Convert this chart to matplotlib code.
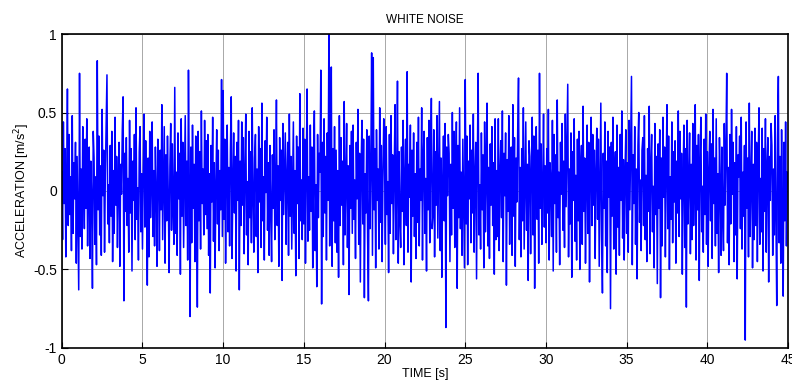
import numpy as np
import matplotlib.pyplot as plt

# acceleration samples, 20 per second (m/s^2), one row per second
acc = [
    .12,-.31,.44,-.08,.27,-.42,.05,.65,-.22,.36,-.15,.09,-.38,.48,-.27,.18,-.05,.31,-.46,.22,
    -.18,-.63,.75,-.29,.14,-.37,.41,.03,-.24,.33,-.11,.46,-.35,.07,.28,-.43,.19,-.06,-.62,.38,
    .21,-.34,.09,-.47,.83,-.12,.35,-.28,.16,-.41,.52,-.03,.26,-.39,.11,.43,.74,-.21,.04,-.33,
    .29,-.16,.38,-.45,.13,-.27,.47,-.09,.22,-.36,.06,.31,-.48,.17,-.02,.39,.60,-.70,.24,-.13,
    .34,-.22,.08,-.39,.45,-.14,.27,-.51,.19,-.06,.36,-.31,.53,-.18,.02,-.44,.25,.41,-.26,.11,
    -.37,.15,.49,-.23,.32,-.08,-.60,.21,-.42,.38,-.17,.06,.44,-.29,.13,-.35,.28,-.01,-.48,.33,
    .18,-.38,.26,-.12,.55,-.31,.07,.41,-.46,.23,-.19,.35,-.04,-.52,.16,.43,-.25,.30,-.09,-.34,
    .66,-.27,.12,-.41,.37,-.05,.24,-.53,.46,-.16,.31,-.36,.09,.48,-.22,.19,-.44,.77,.05,-.80,
    .28,-.33,.42,-.11,.17,-.45,.35,-.02,-.74,.38,-.19,.25,-.37,.51,-.08,.14,-.28,.45,-.15,.32,
    -.24,.36,-.41,.11,-.65,.29,-.07,.47,-.32,.18,-.49,.04,.39,-.21,.26,-.38,.13,-.12,.71,-.29,
    .64,-.18,.33,-.46,.08,.42,-.26,.15,-.35,.27,.60,-.43,.02,.37,-.14,.22,-.51,.31,-.06,.45,
    -.63,.19,-.22,.44,-.09,.34,-.40,.12,.49,-.28,.06,-.47,.38,-.17,.25,-.33,.53,-.03,-.39,.21,
    .36,-.29,.14,-.52,.41,-.07,.27,-.36,.56,-.19,.09,-.44,.32,-.01,.47,-.25,.18,-.41,.29,-.12,
    -.45,.23,-.11,.39,-.31,.05,.58,-.22,.16,-.48,.34,-.06,.26,-.57,.43,-.15,.11,.37,-.34,.08,
    .31,-.41,.49,-.16,.22,-.37,.03,.44,-.27,.13,-.54,.35,-.08,.28,-.43,.62,-.19,.07,-.31,.40,
    -.21,.33,-.46,.15,.65,-.32,.09,-.25,.42,-.13,.28,-.49,.19,.51,-.38,.04,-.61,.36,-.17,.24,
    .12,.77,-.72,.31,-.29,.46,-.14,.22,-.44,.37,-.06,1.0,-.35,.18,.79,-.48,.27,-.19,.41,-.33,
    .26,-.39,.13,-.55,.48,-.22,.34,-.09,.19,-.47,.57,-.28,.05,.43,-.36,.16,-.66,.29,-.11,.38,
    -.27,.42,-.18,.07,-.43,.31,-.05,.52,-.34,.24,-.58,.17,.45,-.21,.33,-.68,.11,-.14,.39,-.30,
    -.70,.35,-.24,.18,.88,-.41,.85,-.12,.27,-.49,.39,-.06,.14,-.37,.53,-.20,.29,-.45,.09,.46,
    .19,-.34,.41,-.15,.06,-.52,.36,-.27,.48,-.08,.23,-.40,.14,.55,-.31,.02,.70,-.46,.25,-.18,
    -.36,.28,-.13,.45,-.47,.09,.33,-.22,.76,-.39,.17,-.04,.42,-.58,.26,-.16,.37,-.29,.11,-.43,
    .31,-.20,.47,-.35,.14,-.06,.53,-.44,.22,.38,-.27,.08,-.51,.34,-.12,.45,-.33,.19,.59,-.24,
    -.15,.39,-.42,.25,-.09,.48,-.30,.13,.57,-.38,.21,-.55,.06,.35,-.19,.43,-.87,.28,-.03,.36,
    .24,-.45,.17,-.28,.50,-.11,.38,-.36,.08,.44,-.62,.29,-.17,.53,-.24,.12,-.41,.33,-.07,-.49,
    .71,-.21,.35,-.47,.19,-.05,.42,-.33,.26,-.14,.49,-.39,.10,.31,-.56,.22,.75,-.28,.04,-.37,
    .37,-.12,.23,-.49,.44,-.26,.07,.56,-.35,.15,-.43,.30,-.09,.41,-.22,.18,-.53,.46,-.31,.13,
    -.29,.46,-.38,.11,.32,-.17,.51,-.45,.24,-.03,.37,-.60,.20,-.13,.48,-.34,.09,.28,-.41,.55,
    -.16,.34,-.48,.21,-.07,.39,.72,-.31,.15,-.42,.27,-.19,.53,-.37,.06,.44,-.25,.17,-.57,.32,
    .22,-.40,.13,.47,-.28,.35,-.62,.09,.41,-.18,.26,-.46,.75,-.11,.30,-.34,.04,.49,-.23,.16,
    -.33,.27,-.14,.52,-.44,.18,.06,-.29,.45,-.51,.36,-.08,.23,-.39,.58,-.17,.12,-.47,.31,-.02,
    .43,-.25,.19,-.36,.49,-.10,.28,.68,-.42,.14,-.21,.37,-.55,.25,-.06,.46,-.32,.10,-.44,.33,
    -.19,.38,-.50,.16,.29,-.34,.54,-.13,.21,-.46,.05,.42,-.27,.31,-.58,.15,.47,-.22,.36,-.09,
    .26,-.43,.12,.40,-.18,.33,-.48,.07,.56,-.29,-.65,.24,-.11,.44,-.35,.19,-.52,.38,-.04,.28,
    -.75,.31,-.16,.47,-.37,.09,.25,-.53,.42,-.23,.15,-.41,.36,-.06,.51,-.30,.20,-.44,.13,.39,
    -.27,.18,-.39,.45,-.12,.32,.73,-.47,.23,-.08,.41,-.34,.14,-.56,.29,.50,-.20,.07,-.38,.26,
    .34,-.22,.48,-.31,.10,-.45,.27,-.13,.54,-.40,.17,.36,-.26,.03,-.49,.43,-.15,.22,-.59,.30,
    -.11,.39,-.68,.21,-.35,.47,-.04,.28,-.42,.16,.55,-.24,.35,-.50,.09,-.18,.44,-.33,.25,-.07,
    .32,-.46,.19,-.14,.51,-.29,.38,-.05,.24,-.53,.13,.42,-.36,.27,-.74,.45,-.21,.06,.37,-.40,
    .17,-.31,.43,-.22,.08,.55,-.44,.29,-.12,.36,-.57,.20,.47,-.26,.03,-.39,.33,-.15,.49,-.34,
    .25,-.48,.14,.38,-.19,.30,-.43,.52,-.08,.21,-.35,.46,-.27,.11,-.52,.34,.06,-.41,.28,-.16,
    -.38,.43,-.09,.26,.75,-.33,.15,-.47,.36,-.21,.52,-.02,.31,-.45,.18,-.28,.41,-.56,.23,.09,
    .35,-.24,.47,-.37,.12,-.16,.29,-.95,.44,-.11,.21,-.42,.56,-.29,.07,.38,-.49,.17,-.31,.40,
    -.22,.31,-.45,.18,.53,-.34,.08,-.26,.40,-.51,.27,-.13,.46,-.39,.15,.34,-.58,.22,-.06,.43,
    .29,-.41,.14,-.28,.48,-.17,-.73,.36,.73,-.33,.22,-.46,.39,-.08,-.67,.31,-.19,.44,-.35,.12,
]
fs = 20  # samples per second
x_ticks = [0, 5, 10, 15, 20, 25, 30, 35, 40, 45]
y_ticks = [-1, -0.5, 0, 0.5, 1]

acc = np.array(acc)
t = np.arange(len(acc)) / fs

plt.rcParams['font.family'] = ['Liberation Sans', 'DejaVu Sans']

fig = plt.figure(figsize=(7.92, 3.87), dpi=100)
ax = fig.add_axes([0.078, 0.101, 0.917, 0.811])

ax.plot(t, acc, color='#0000ff', linewidth=1.1)

ax.set_xlim(0, 45)
ax.set_ylim(-1, 1)
ax.set_xticks(x_ticks)
ax.set_yticks(y_ticks)
ax.set_yticklabels(['-1', '-0.5', '0', '0.5', '1'])
ax.tick_params(direction='in', length=4, labelsize=10, colors='black')
ax.grid(True, color='#a8a8a8', linestyle='-', linewidth=0.7)
for s in ax.spines.values():
    s.set_linewidth(1.2)

ax.set_title('WHITE NOISE', fontsize=8.5, pad=8)
ax.set_xlabel('TIME [s]', fontsize=9, labelpad=1)
ax.set_ylabel('ACCELERATION [m/s$^2$]', fontsize=9, labelpad=1)

fig.savefig('out.png', dpi=100)
